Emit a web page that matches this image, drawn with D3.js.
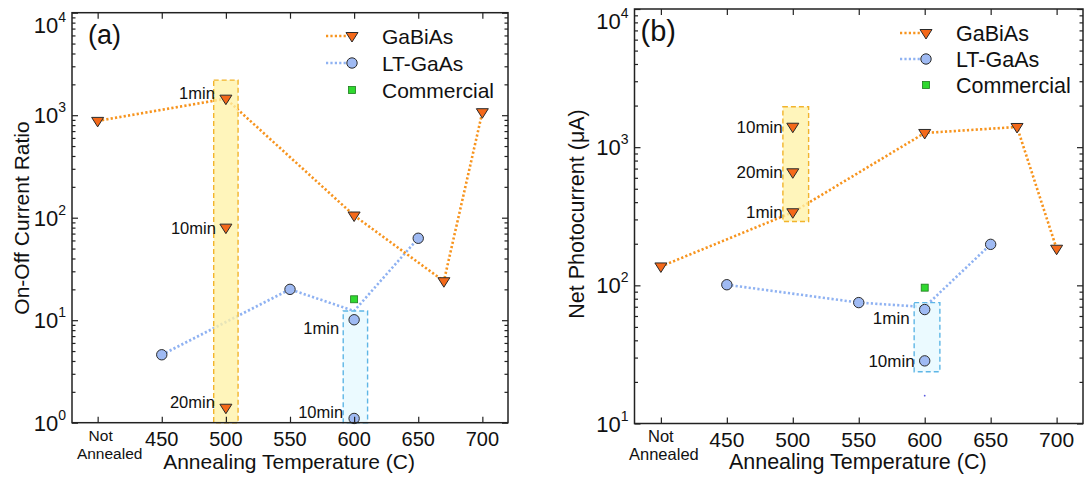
<!DOCTYPE html>
<html>
<head>
<meta charset="utf-8">
<script src="https://cdn.jsdelivr.net/npm/d3@7"></script>
<style>
	body { margin: 0; background: #fff; }
	svg { display: block; font-family: "Liberation Sans", Arial, sans-serif; }
</style>
</head>
<body>
<svg id="chart" width="1086" height="479"></svg>
<script>
// x categories ("Not Annealed" is placed at 400)
var xTickValues = [400, 450, 500, 550, 600, 650, 700];
var xTickLabels = ['Not Annealed', '450', '500', '550', '600', '650', '700'];
var yTicksA = [1, 10, 100, 1000, 10000];
var yTicksB = [10, 100, 1000, 10000];
var legendNames = ['GaBiAs', 'LT-GaAs', 'Commercial'];

// (a) On-Off current ratio
var gabiasLineTempA = [400, 500, 600, 670, 700];
var gabiasLineValA = [880, 1450, 105, 24, 1070];
var gabiasTempA = [400, 500, 600, 670, 700, 500, 500];
var gabiasValA = [880, 1450, 105, 24, 1070, 80, 1.4];
var ltLineTempA = [450, 550, 600, 650];
var ltLineValA = [4.6, 20, 12.3, 63];
var ltTempA = [450, 550, 600, 650, 600];
var ltValA = [4.6, 20, 10.1, 63, 1.1];
var commercialTempA = [600];
var commercialValA = [16];
var boxesA = [
	{ kind: 'yellow', t0: 490.5, t1: 509.5, v0: 1, v1: 2200 },
	{ kind: 'blue', t0: 591.5, t1: 610.5, v0: 1, v1: 12.3 }
];
var notesA = [
	{ t: 500, v: 1450, text: '1min', pos: 'up' },
	{ t: 500, v: 80, text: '10min', pos: 'mid' },
	{ t: 500, v: 1.4, text: '20min', pos: 'up' },
	{ t: 600, v: 10.1, text: '1min', pos: 'down' },
	{ t: 600, v: 1.1, text: '10min', pos: 'up' }
];

// (b) Net photocurrent (uA)
var gabiasLineTempB = [400, 500, 600, 670, 700];
var gabiasLineValB = [137, 338, 1267, 1400, 184];
var gabiasTempB = [400, 500, 600, 670, 700, 500, 500];
var gabiasValB = [137, 338, 1267, 1400, 184, 1406, 658];
var ltLineTempB = [450, 550, 600, 650];
var ltLineValB = [101, 75, 69.7, 198];
var ltTempB = [450, 550, 600, 650, 600];
var ltValB = [101, 75, 66.8, 198, 28.4];
var commercialTempB = [600];
var commercialValB = [96.2];
var strayTempB = [600];
var strayValB = [15.9];
var boxesB = [
	{ kind: 'yellow', t0: 492.5, t1: 512, v0: 290, v1: 1960 },
	{ kind: 'blue', t0: 592, t1: 611.5, v0: 23.7, v1: 75 }
];
var notesB = [
	{ t: 500, v: 1406, text: '10min', pos: 'mid' },
	{ t: 500, v: 658, text: '20min', pos: 'mid' },
	{ t: 500, v: 338, text: '1min', pos: 'mid' },
	{ t: 600, v: 66.8, text: '1min', pos: 'down' },
	{ t: 600, v: 28.4, text: '10min', pos: 'mid' }
];

var colors = {
	orangeLine: '#f7941e',
	orangeFill: '#f4691a',
	blueLine: '#8fb2f2',
	blueFill: '#9fbaf3',
	green: '#2fd92f',
	greenEdge: '#1d7a1d',
	edge: '#2a2a2a',
	yellowFill: '#fff2a8',
	yellowEdge: '#f2b42c',
	cyanFill: '#e6f9ff',
	cyanEdge: '#5eb6e6'
};

var svg = d3.select('#chart');

function drawMarker(g, kind, px, py) {
	if (kind === 'tri') {
		g.append('path')
			.attr('d', 'M-6,-3.5L6,-3.5L0,6Z')
			.attr('transform', 'translate(' + px + ',' + py + ')')
			.attr('fill', colors.orangeFill)
			.attr('stroke', colors.edge)
			.attr('stroke-width', 1);
	}
	else if (kind === 'circle') {
		g.append('circle')
			.attr('cx', px).attr('cy', py).attr('r', 5.2)
			.attr('fill', colors.blueFill)
			.attr('stroke', colors.edge)
			.attr('stroke-width', 1);
	}
	else {
		g.append('rect')
			.attr('x', px - 3.5).attr('y', py - 3.5)
			.attr('width', 7).attr('height', 7)
			.attr('fill', colors.green)
			.attr('stroke', colors.greenEdge)
			.attr('stroke-width', 0.8);
	}
}

function drawPanel(p) {
	var x = d3.scaleLinear().domain([380, 720]).range([p.left, p.right]);
	var y = d3.scaleLog().domain([p.yTicks[0], p.yTicks[p.yTicks.length - 1]]).range([p.bottom, p.top]);
	var g = svg.append('g');

	var line = d3.line()
		.x(function(d) { return x(d[0]); })
		.y(function(d) { return y(d[1]); });

	// dotted series lines
	g.append('path')
		.datum(d3.zip(p.ltLineTemp, p.ltLineVal))
		.attr('d', line)
		.attr('fill', 'none')
		.attr('stroke', colors.blueLine)
		.attr('stroke-width', 2.6)
		.attr('stroke-dasharray', '2.2 2.2');
	g.append('path')
		.datum(d3.zip(p.gabiasLineTemp, p.gabiasLineVal))
		.attr('d', line)
		.attr('fill', 'none')
		.attr('stroke', colors.orangeLine)
		.attr('stroke-width', 2.6)
		.attr('stroke-dasharray', '2.2 2.2');

	// highlight boxes
	g.selectAll('rect.box')
		.data(p.boxes)
		.enter()
		.append('rect')
		.attr('class', 'box')
		.attr('x', function(d) { return x(d.t0); })
		.attr('y', function(d) { return y(d.v1); })
		.attr('width', function(d) { return x(d.t1) - x(d.t0); })
		.attr('height', function(d) { return y(d.v0) - y(d.v1); })
		.attr('fill', function(d) { return d.kind === 'yellow' ? colors.yellowFill : colors.cyanFill; })
		.attr('fill-opacity', 0.78)
		.attr('stroke', function(d) { return d.kind === 'yellow' ? colors.yellowEdge : colors.cyanEdge; })
		.attr('stroke-width', 1.4)
		.attr('stroke-dasharray', '5 3');

	// markers
	p.gabiasTemp.forEach(function(t, i) { drawMarker(g, 'tri', x(t), y(p.gabiasVal[i])); });
	p.ltTemp.forEach(function(t, i) { drawMarker(g, 'circle', x(t), y(p.ltVal[i])); });
	p.commercialTemp.forEach(function(t, i) { drawMarker(g, 'square', x(t), y(p.commercialVal[i])); });
	if (p.strayTemp) {
		p.strayTemp.forEach(function(t, i) {
			g.append('circle').attr('cx', x(t)).attr('cy', y(p.strayVal[i])).attr('r', 0.9).attr('fill', '#5a5ae0');
		});
	}

	// duration notes
	var noteDy = { up: 0, mid: 6, down: 14 };
	var noteDx = { up: -11, mid: -10, down: -15 };
	g.selectAll('text.note')
		.data(p.notes)
		.enter()
		.append('text')
		.attr('class', 'note')
		.attr('x', function(d) { return x(d.t) + noteDx[d.pos]; })
		.attr('y', function(d) { return y(d.v) + noteDy[d.pos]; })
		.attr('text-anchor', 'end')
		.attr('font-size', p.noteSize)
		.attr('fill', '#111')
		.text(function(d) { return d.text; });

	// frame
	g.append('rect')
		.attr('x', p.left).attr('y', p.top)
		.attr('width', p.right - p.left).attr('height', p.bottom - p.top)
		.attr('fill', 'none')
		.attr('stroke', '#222')
		.attr('stroke-width', 1.5);

	// inward ticks
	var minors = [];
	p.yTicks.slice(0, -1).forEach(function(v) {
		for (var k = 2; k <= 9; k++) { minors.push(v * k); }
	});
	function tickAxis(axis, tx, ty) {
		var a = g.append('g').attr('transform', 'translate(' + tx + ',' + ty + ')').call(axis);
		a.select('.domain').remove();
		a.selectAll('text').remove();
		a.selectAll('line').attr('stroke', '#222').attr('stroke-width', 1.2);
	}
	tickAxis(d3.axisBottom(x).tickValues(xTickValues).tickSizeInner(-6).tickSizeOuter(0), 0, p.bottom);
	tickAxis(d3.axisTop(x).tickValues(xTickValues).tickSizeInner(-6).tickSizeOuter(0), 0, p.top);
	tickAxis(d3.axisLeft(y).tickValues(p.yTicks).tickSizeInner(-6).tickSizeOuter(0), p.left, 0);
	tickAxis(d3.axisRight(y).tickValues(p.yTicks).tickSizeInner(-6).tickSizeOuter(0), p.right, 0);
	tickAxis(d3.axisLeft(y).tickValues(minors).tickSizeInner(-3.5).tickSizeOuter(0), p.left, 0);
	tickAxis(d3.axisRight(y).tickValues(minors).tickSizeInner(-3.5).tickSizeOuter(0), p.right, 0);

	// y tick labels as powers of ten
	var top = p.yTicks[p.yTicks.length - 1];
	p.yTicks.forEach(function(v) {
		var t = g.append('text')
			.attr('x', p.left - 6)
			.attr('y', y(v) + 8 + (v === top ? 12 : 0))
			.attr('text-anchor', 'end')
			.attr('fill', '#111');
		t.append('tspan').attr('font-size', 22).text('10');
		t.append('tspan').attr('font-size', 14).attr('dy', -11).text(Math.round(Math.log10(v)));
	});

	// x tick labels
	xTickValues.forEach(function(v, i) {
		var label = xTickLabels[i];
		if (label === 'Not Annealed') {
			g.append('text').attr('x', x(v) + p.naShift[0]).attr('y', p.bottom + 18)
				.attr('text-anchor', 'middle').attr('font-size', p.naSize).attr('fill', '#111').text('Not');
			g.append('text').attr('x', x(v) + p.naShift[1]).attr('y', p.bottom + 36)
				.attr('text-anchor', 'middle').attr('font-size', p.naSize).attr('fill', '#111').text('Annealed');
		}
		else {
			g.append('text').attr('x', x(v)).attr('y', p.bottom + 23)
				.attr('text-anchor', 'middle').attr('font-size', p.xTickSize).attr('fill', '#111').text(label);
		}
	});

	// axis titles
	g.append('text')
		.attr('x', (p.left + p.right) / 2 + p.xTitleShift)
		.attr('y', 469)
		.attr('text-anchor', 'middle')
		.attr('font-size', p.titleSize)
		.attr('fill', '#111')
		.text('Annealing Temperature (C)');
	g.append('text')
		.attr('transform', 'translate(' + p.yTitleX + ',' + p.yTitleY + ') rotate(-90)')
		.attr('text-anchor', 'middle')
		.attr('font-size', p.titleSize)
		.attr('fill', '#111')
		.text(p.yTitle);

	// panel tag
	g.append('text')
		.attr('x', p.left + p.tagDx)
		.attr('y', p.tagY)
		.attr('font-size', p.tagSize)
		.attr('fill', '#111')
		.text(p.tag);

	// legend
	var lg = g.append('g').attr('transform', 'translate(' + p.legendX + ',' + p.legendY + ')');
	legendNames.forEach(function(name, i) {
		var ry = i * p.legendStep;
		if (i < 2) {
			lg.append('line')
				.attr('x1', 0).attr('x2', 22).attr('y1', ry).attr('y2', ry)
				.attr('stroke', i === 0 ? colors.orangeLine : colors.blueLine)
				.attr('stroke-width', 2.6)
				.attr('stroke-dasharray', '2.2 2.2');
		}
		drawMarker(lg, ['tri', 'circle', 'square'][i], 26, ry);
		lg.append('text')
			.attr('x', 56).attr('y', ry + 7.5)
			.attr('font-size', p.legendSize)
			.attr('fill', '#111')
			.text(name);
	});
}

drawPanel({
	left: 72, right: 508, top: 12.7, bottom: 422.7,
	yTicks: yTicksA,
	gabiasLineTemp: gabiasLineTempA, gabiasLineVal: gabiasLineValA,
	gabiasTemp: gabiasTempA, gabiasVal: gabiasValA,
	ltLineTemp: ltLineTempA, ltLineVal: ltLineValA,
	ltTemp: ltTempA, ltVal: ltValA,
	commercialTemp: commercialTempA, commercialVal: commercialValA,
	boxes: boxesA, notes: notesA, noteSize: 16.5,
	xTickSize: 20, naSize: 15.5, naShift: [3, 12],
	titleSize: 21, xTitleShift: -1, yTitle: 'On-Off Current Ratio', yTitleX: 29, yTitleY: 218,
	tag: '(a)', tagDx: 16, tagY: 44, tagSize: 27,
	legendX: 326, legendY: 36, legendStep: 27, legendSize: 21
});

drawPanel({
	left: 634.5, right: 1083, top: 9, bottom: 423.5,
	yTicks: yTicksB,
	gabiasLineTemp: gabiasLineTempB, gabiasLineVal: gabiasLineValB,
	gabiasTemp: gabiasTempB, gabiasVal: gabiasValB,
	ltLineTemp: ltLineTempB, ltLineVal: ltLineValB,
	ltTemp: ltTempB, ltVal: ltValB,
	commercialTemp: commercialTempB, commercialVal: commercialValB,
	strayTemp: strayTempB, strayVal: strayValB,
	boxes: boxesB, notes: notesB, noteSize: 17,
	xTickSize: 21, naSize: 16.5, naShift: [0, 3],
	titleSize: 21.5, xTitleShift: -1, yTitle: 'Net Photocurrent (\u03bcA)', yTitleX: 584, yTitleY: 214,
	tag: '(b)', tagDx: 6, tagY: 41, tagSize: 29,
	legendX: 900, legendY: 33, legendStep: 26, legendSize: 21.5
});
</script>
</body>
</html>
